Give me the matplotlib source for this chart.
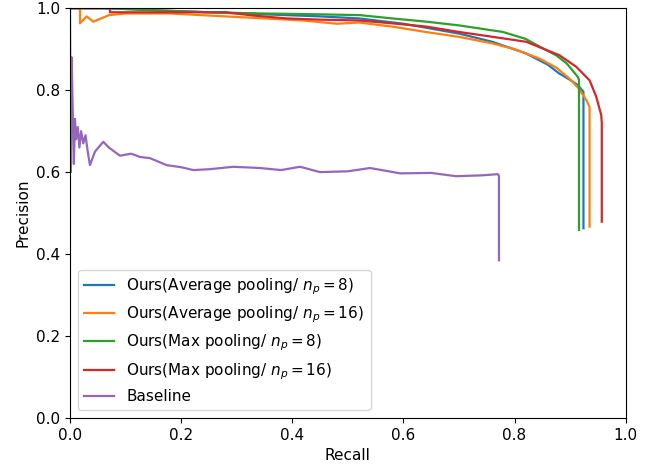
"""
Courbes precision-rappel : nos variantes (average / max pooling) contre la baseline.
"""
import matplotlib
matplotlib.use("Agg")
import matplotlib.pyplot as plt

# --- valeurs ---
avg8_r = [0, 0.07, 0.15, 0.25, 0.35, 0.45, 0.52, 0.60, 0.70, 0.76, 0.82, 0.86, 0.88, 0.90, 0.914, 0.924, 0.924]
avg8_p = [1.0, 1.0, 0.995, 0.99, 0.985, 0.98, 0.975, 0.962, 0.938, 0.918, 0.89, 0.862, 0.841, 0.825, 0.812, 0.796, 0.463]

avg16_r = [0, 0.018, 0.018, 0.03, 0.042, 0.07, 0.10, 0.18, 0.28, 0.35, 0.42, 0.48, 0.52, 0.58, 0.64,
           0.70, 0.76, 0.80, 0.845, 0.875, 0.899, 0.915, 0.929, 0.935, 0.935]
avg16_p = [1.0, 1.0, 0.963, 0.98, 0.967, 0.983, 0.987, 0.987, 0.98, 0.975, 0.97, 0.962, 0.965, 0.955, 0.942,
           0.93, 0.914, 0.90, 0.877, 0.855, 0.828, 0.805, 0.776, 0.759, 0.467]

max8_r = [0, 0.06, 0.15, 0.25, 0.35, 0.45, 0.522, 0.58, 0.642, 0.70, 0.779, 0.82, 0.851, 0.875, 0.894, 0.914, 0.916, 0.916]
max8_p = [1.0, 1.0, 0.995, 0.99, 0.987, 0.985, 0.983, 0.975, 0.967, 0.958, 0.942, 0.925, 0.902, 0.885, 0.865, 0.832, 0.825, 0.459]

max16_r = [0, 0.072, 0.072, 0.15, 0.28, 0.33, 0.39, 0.45, 0.52, 0.58, 0.642, 0.70, 0.761, 0.821, 0.881,
           0.911, 0.935, 0.947, 0.956, 0.957, 0.957]
max16_p = [1.0, 1.0, 0.99, 0.99, 0.99, 0.982, 0.975, 0.972, 0.97, 0.963, 0.955, 0.942, 0.93, 0.918, 0.885,
           0.857, 0.824, 0.784, 0.739, 0.72, 0.479]

base_r = [0, 0.0015, 0.003, 0.005, 0.007, 0.009, 0.011, 0.014, 0.017, 0.02, 0.024, 0.028, 0.032, 0.036,
          0.045, 0.06, 0.07, 0.09, 0.11, 0.126, 0.144, 0.16, 0.174, 0.20, 0.222, 0.25, 0.294, 0.342,
          0.38, 0.414, 0.45, 0.50, 0.54, 0.594, 0.65, 0.695, 0.74, 0.77, 0.772, 0.772]
base_p = [1.0, 0.60, 0.88, 0.75, 0.62, 0.73, 0.68, 0.71, 0.66, 0.70, 0.67, 0.69, 0.65, 0.617,
          0.65, 0.674, 0.66, 0.64, 0.645, 0.637, 0.634, 0.625, 0.617, 0.612, 0.605, 0.607, 0.613, 0.61,
          0.605, 0.613, 0.60, 0.602, 0.61, 0.597, 0.598, 0.59, 0.592, 0.595, 0.59, 0.385]

labels = [r"Ours(Average pooling/ $n_p=8$)",
          r"Ours(Average pooling/ $n_p=16$)",
          r"Ours(Max pooling/ $n_p=8$)",
          r"Ours(Max pooling/ $n_p=16$)",
          "Baseline"]

plt.rcParams["font.size"] = 11

fig = plt.figure(figsize=(6.6, 4.7), dpi=100)
ax = fig.add_axes([0.106, 0.1106, 0.842, 0.872])
ax.plot(avg8_r, avg8_p, color="tab:blue", label=labels[0], lw=1.6)
ax.plot(avg16_r, avg16_p, color="tab:orange", label=labels[1], lw=1.6)
ax.plot(max8_r, max8_p, color="tab:green", label=labels[2], lw=1.6)
ax.plot(max16_r, max16_p, color="tab:red", label=labels[3], lw=1.6)
ax.plot(base_r, base_p, color="tab:purple", label=labels[4], lw=1.6)
ax.set_xlim(0, 1); ax.set_ylim(0, 1)
ax.set_xlabel("Recall"); ax.set_ylabel("Precision")
ax.legend(loc="lower left")
fig.savefig("out.png", dpi=100)
